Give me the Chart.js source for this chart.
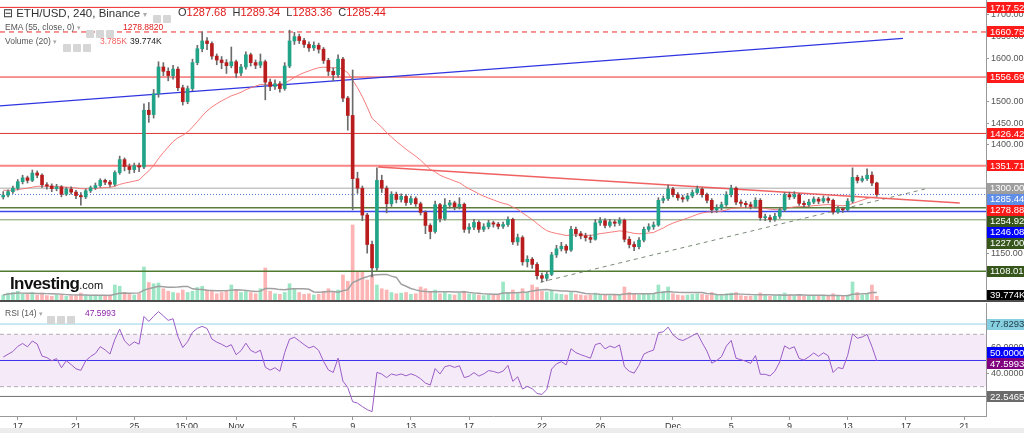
<!DOCTYPE html>
<html>
<head>
<meta charset="utf-8">
<script src="https://cdn.jsdelivr.net/npm/chart.js@4.4.1/dist/chart.umd.min.js"></script>
<style>
  body { margin: 0; width: 1024px; height: 433px; overflow: hidden; background: #fff; position: relative;
         font-family: 'Liberation Sans', Arial, sans-serif; }
  #priceWrap { position: absolute; left: 0; top: 0; width: 1024px; height: 300px; }
  #rsiWrap { position: absolute; left: 0; top: 302px; width: 1024px; height: 126px; }
  .sep { position: absolute; left: 0; top: 300px; width: 1024px; height: 2px; background: #4d4d4d; }
  .foot { position: absolute; left: 0; top: 428px; width: 1024px; height: 5px; background: #ececec; }
  .hd { position: absolute; white-space: nowrap; color: #555; }
  .ic { display: inline-block; width: 8px; height: 8px; background: #d6d6d6; margin-right: 2px; vertical-align: -1px; border-radius: 1px; }
  .red { color: #e01b1b; }
  .logo { position: absolute; left: 10px; top: 274px; color: #111; white-space: nowrap; }
</style>
</head>
<body>
<div id="priceWrap"><canvas id="priceChart" width="1024" height="300"></canvas></div>
<div class="sep"></div>
<div id="rsiWrap"><canvas id="rsiChart" width="1024" height="126"></canvas></div>
<div class="foot"></div>

<div class="hd" style="left:3px;top:6px;font-size:11.5px;color:#333">&#8863; ETH/USD, 240, Binance <span style="font-size:8px;color:#aaa">&#9662;</span></div>
<div class="hd" style="left:153px;top:8px"><span class="ic"></span><span class="ic"></span></div>
<div class="hd" style="left:178px;top:6px;font-size:11px;color:#333">O<span class="red">1287.68</span>&nbsp; H<span class="red">1289.34</span>&nbsp; L<span class="red">1283.36</span>&nbsp; C<span class="red">1285.44</span></div>
<div class="hd" style="left:5px;top:22px;font-size:8.5px">EMA (55, close, 0) <span style="font-size:7px;color:#aaa">&#9662;</span></div>
<div class="hd" style="left:86px;top:23px"><span class="ic"></span><span class="ic"></span><span class="ic"></span></div>
<div class="hd red" style="left:123px;top:22px;font-size:8.5px">1278.8820</div>
<div class="hd" style="left:5px;top:36px;font-size:8.5px">Volume (20) <span style="font-size:7px;color:#aaa">&#9662;</span></div>
<div class="hd" style="left:63px;top:37px"><span class="ic"></span><span class="ic"></span><span class="ic"></span></div>
<div class="hd" style="left:100px;top:36px;font-size:8.5px;color:#f26161">3.785K</div>
<div class="hd" style="left:130px;top:36px;font-size:8.5px;color:#222">39.774K</div>
<div class="logo"><b style="font-size:17px;letter-spacing:-0.6px">Investing</b><span style="font-size:11px">.com</span></div>
<div class="hd" style="left:5px;top:308px;font-size:8.5px">RSI (14) <span style="font-size:7px;color:#aaa">&#9662;</span></div>
<div class="hd" style="left:47px;top:309px"><span class="ic"></span><span class="ic"></span><span class="ic"></span></div>
<div class="hd" style="left:85px;top:308px;font-size:8.5px;color:#8e24aa">47.5993</div>

<script>
// 8h candles starting Oct 16 (day -1 = Oct 16, day 0 = Oct 17)
const startDay = -1;
const barsPerDay = 3;
const firstOpen = 1280;

const closes = [
  1284, 1292, 1300, 1315, 1324, 1318, 1335, 1330, 1308, 1305,
  1299, 1303, 1286, 1298, 1291, 1283, 1280, 1294, 1301, 1306,
  1318, 1314, 1309, 1336, 1366, 1350, 1343, 1352, 1349, 1480,
  1470, 1518, 1580, 1570, 1560, 1575, 1532, 1500, 1530, 1590,
  1622, 1640, 1634, 1605, 1596, 1590, 1583, 1592, 1566, 1580,
  1608, 1590, 1584, 1592, 1545, 1535, 1541, 1530, 1582, 1640,
  1650, 1641, 1632, 1624, 1630, 1621, 1595, 1570, 1562, 1598,
  1508, 1468, 1322, 1300, 1238, 1170, 1116, 1318, 1300, 1264,
  1286, 1274, 1281, 1267, 1276, 1264, 1244, 1214, 1200, 1262,
  1230, 1261, 1266, 1257, 1263, 1205, 1210, 1221, 1205, 1211,
  1220, 1217, 1212, 1216, 1228, 1176, 1186, 1130, 1136, 1124,
  1098, 1092, 1101, 1146, 1160, 1166, 1157, 1205, 1195, 1190,
  1186, 1182, 1220, 1225, 1214, 1222, 1219, 1226, 1182, 1170,
  1165, 1180, 1205, 1211, 1215, 1272, 1276, 1298, 1285, 1278,
  1275, 1282, 1290, 1298, 1285, 1272, 1250, 1255, 1262, 1285,
  1300, 1268, 1265, 1262, 1258, 1272, 1232, 1232, 1228, 1235,
  1250, 1285, 1280, 1285, 1265, 1262, 1268, 1275, 1270, 1276,
  1272, 1245, 1252, 1250, 1270, 1325, 1318, 1322, 1330, 1312,
  1285.44
];
const highs = [
  1292, 1296, 1305, 1320, 1330, 1328, 1342, 1340, 1333, 1313,
  1310, 1309, 1306, 1302, 1303, 1295, 1290, 1298, 1305, 1312,
  1322, 1321, 1318, 1340, 1374, 1370, 1356, 1358, 1358, 1495,
  1498, 1528, 1592, 1590, 1578, 1584, 1580, 1538, 1536, 1598,
  1630, 1661, 1648, 1638, 1610, 1604, 1597, 1626, 1596, 1586,
  1615, 1612, 1596, 1610, 1596, 1552, 1550, 1546, 1590, 1665,
  1660, 1656, 1646, 1638, 1638, 1635, 1625, 1600, 1578, 1608,
  1602, 1512, 1573, 1337, 1305, 1242, 1178, 1347, 1330, 1305,
  1292, 1291, 1287, 1285, 1282, 1280, 1268, 1248, 1218, 1270,
  1265, 1276, 1272, 1270, 1278, 1266, 1218, 1228, 1225, 1218,
  1226, 1224, 1221, 1222, 1234, 1231, 1194, 1190, 1144, 1140,
  1128, 1104, 1108, 1152, 1168, 1175, 1170, 1212, 1210, 1200,
  1196, 1192, 1228, 1232, 1230, 1228, 1227, 1232, 1229, 1188,
  1176, 1186, 1210, 1218, 1222, 1278, 1282, 1307, 1302, 1290,
  1284, 1288, 1296, 1305, 1301, 1289, 1276, 1262, 1268, 1292,
  1307, 1303, 1273, 1270, 1268, 1278, 1276, 1240, 1238, 1242,
  1256, 1290, 1291, 1292, 1288, 1270, 1274, 1280, 1279, 1282,
  1280, 1275, 1258, 1256, 1276, 1347, 1330, 1328, 1345, 1338,
  1314
];
const lows = [
  1275, 1280, 1288, 1296, 1310, 1312, 1315, 1324, 1302, 1298,
  1292, 1294, 1280, 1283, 1286, 1276, 1261, 1276, 1290, 1297,
  1302, 1308, 1303, 1305, 1332, 1340, 1334, 1336, 1338, 1345,
  1452, 1462, 1510, 1560, 1548, 1552, 1525, 1492, 1495, 1525,
  1585, 1615, 1620, 1598, 1585, 1576, 1565, 1578, 1556, 1560,
  1575, 1582, 1576, 1578, 1504, 1525, 1528, 1522, 1526, 1578,
  1632, 1634, 1625, 1616, 1618, 1612, 1588, 1560, 1548, 1556,
  1500, 1434, 1250, 1288, 1225, 1150, 1095, 1110, 1290, 1243,
  1258, 1266, 1268, 1260, 1262, 1258, 1238, 1195, 1183, 1196,
  1222, 1226, 1254, 1250, 1252, 1198, 1196, 1204, 1198, 1200,
  1206, 1210, 1206, 1207, 1212, 1170, 1168, 1122, 1118, 1115,
  1090, 1083, 1086, 1098, 1140, 1155, 1150, 1154, 1188, 1183,
  1178, 1174, 1180, 1214, 1208, 1210, 1212, 1214, 1176, 1162,
  1156, 1160, 1176, 1200, 1205, 1212, 1266, 1272, 1280, 1272,
  1268, 1270, 1278, 1286, 1279, 1266, 1243, 1244, 1250, 1258,
  1280, 1262, 1258, 1255, 1252, 1254, 1226, 1225, 1222, 1224,
  1230, 1246, 1274, 1276, 1260, 1256, 1258, 1264, 1264, 1266,
  1266, 1240, 1242, 1244, 1247, 1266, 1312, 1314, 1318, 1306,
  1281
];
// volume in K
const volumes = [
  40, 55, 60, 70, 50, 45, 60, 40, 55, 35,
  30, 40, 45, 30, 35, 40, 55, 35, 30, 40,
  35, 30, 40, 120, 110, 60, 45, 40, 50, 264,
  140, 130, 136, 90, 70, 60, 55, 80, 60, 70,
  100, 110, 80, 70, 50, 60, 70, 120, 80, 60,
  70, 60, 50, 90, 256, 70, 50, 45, 60, 130,
  90, 60, 45, 50, 40, 45, 70, 90, 60, 80,
  200, 150, 600, 224, 224, 160, 200, 120, 90, 80,
  60, 50, 55, 60, 45, 50, 104, 90, 70, 80,
  50, 60, 45, 40, 55, 70, 50, 45, 40, 35,
  40, 40, 45, 144, 60, 80, 50, 90, 60, 120,
  100, 70, 64, 80, 50, 45, 40, 60, 45, 40,
  35, 40, 55, 45, 40, 35, 40, 45, 104, 60,
  45, 40, 50, 45, 50, 120, 70, 104, 50, 40,
  35, 40, 45, 50, 45, 40, 60, 40, 35, 50,
  55, 60, 35, 30, 30, 35, 56, 35, 30, 35,
  45, 56, 40, 35, 45, 30, 30, 35, 30, 30,
  35, 50, 35, 30, 40, 144, 60, 40, 50, 120,
  30
];

// indicator settings (8h bars -> half the 4h periods)
const emaSeed = 1296;
const emaPeriod = 27.5;
const rsiPeriod = 10;
const rsiSeedGain = 10, rsiSeedLoss = 9;
const volMaPeriod = 10;

// read-off values
const lastEma = 1278.88;
const lastVolMa = 39.774;
const lastRsi = 47.5993;
const rsiHigh = 77.8293, rsiLow = 22.5465;

const levelValues = [1717.52, 1660.75, 1556.69, 1426.42, 1351.71, 1300.00, 1285.44, 1254.92, 1246.08, 1227.00, 1108.01];
const levelColors = ['#f02a2a', '#f02a2a', '#f02a2a', '#e23232', 'rgba(250,110,110,0.85)', '#c6c6c6', '#5a7ee0', '#5c7b3c', '#3a48ee', '#7c9868', '#4f7a30'];
const levelWidths = [1, 1, 1, 1, 2, 1.5, 1, 1.5, 1.5, 1, 1.5];
const levelDashes = [[], [5, 4], [], [], [], [], [1, 2], [], [], [], []];
const levelLabelColors = ['#ff1a1a', '#ff1a1a', '#ff1a1a', '#ff1a1a', '#ff1a1a', '#9e9e9e', '#5f8ee8', '#36561c', '#0000ff', '#36561c', '#36561c'];

const blueTrend = [[-1.22, 1490], [60.8, 1646]];
const redTrend = [[24.75, 1349], [64.7, 1266]];
const grayTrend = [[35.9, 1083], [62.3, 1298]];

const tickDays = [0, 4, 8, 11.6, 15, 19, 23, 27, 31, 36, 40, 45, 49, 53, 57, 61, 65];
const tickLabels = ['17', '21', '25', '15:00', 'Nov', '5', '9', '13', '17', '22', '26', 'Dec', '5', '9', '13', '17', '21'];
const priceTicks = [1100, 1150, 1200, 1250, 1300, 1350, 1400, 1450, 1500, 1550, 1600, 1650, 1700];
const rsiTicks = [40, 60];

const X_MIN = -1.22, X_MAX = 66.5;
const PRICE_MIN = 1041.8, PRICE_MAX = 1734.6;
const VOL_MAX = 2400;
const RSI_MIN = 7.6, RSI_MAX = 93.9;

const GREEN = '#20a386', RED = '#b81c1c', WICK = '#6b6b6b';

const dayOf = i => startDay + i / barsPerDay;
const opens = closes.map((c, i) => i === 0 ? firstOpen : closes[i - 1]);
const up = closes.map((c, i) => c >= opens[i]);

function ema(values, period, seed) {
  const k = 2 / (period + 1);
  let e = seed;
  return values.map(v => (e = v * k + e * (1 - k)));
}
function rsi(values, n) {
  let g = rsiSeedGain, l = rsiSeedLoss;
  return values.map((v, i) => {
    if (i > 0) {
      const d = v - values[i - 1];
      g = (g * (n - 1) + Math.max(d, 0)) / n;
      l = (l * (n - 1) + Math.max(-d, 0)) / n;
    }
    return 100 - 100 / (1 + g / l);
  });
}
function sma(values, n) {
  return values.map((v, i) => {
    const part = values.slice(Math.max(0, i - n + 1), i + 1);
    return part.reduce((a, b) => a + b, 0) / part.length;
  });
}

const emaLine = ema(closes, emaPeriod, emaSeed);
const rsiLine = rsi(closes, rsiPeriod);
const volMa = sma(volumes, volMaPeriod);

function hLine(v, color, width, dash, axis) {
  return { type: 'line', yAxisID: axis || 'y', data: [{ x: X_MIN, y: v }, { x: X_MAX, y: v }],
           borderColor: color, borderWidth: width, borderDash: dash || [], pointRadius: 0, order: 4 };
}
function segLine(pts, color, width, dash) {
  return { type: 'line', data: pts.map(p => ({ x: p[0], y: p[1] })), borderColor: color,
           borderWidth: width, borderDash: dash || [], pointRadius: 0, order: 3 };
}
// no extra padding round the axes, so the plot fills its pane
function fitY(s) { s.width = 38; s.paddingTop = 0; s.paddingBottom = 0; }
function fitX(s) { s.height = 12; s.paddingLeft = 0; s.paddingRight = 0; }

// colored value boxes on the right axis
const axisLabels = {
  id: 'axisLabels',
  afterDraw(chart, args, opts) {
    const ctx = chart.ctx, h = 11, left = chart.chartArea.right + 1;
    const items = opts.items.map(it => ({ ...it, py: chart.scales[it.axis || 'y'].getPixelForValue(it.value) }));
    if (opts.dir === 'up') {
      items.sort((a, b) => b.py - a.py);
      for (let i = 1; i < items.length; i++) if (items[i].py > items[i - 1].py - h) items[i].py = items[i - 1].py - h;
    } else {
      items.sort((a, b) => a.py - b.py);
      for (let i = 1; i < items.length; i++) if (items[i].py < items[i - 1].py + h) items[i].py = items[i - 1].py + h;
    }
    ctx.save();
    ctx.font = '9.5px "Liberation Sans", Arial, sans-serif';
    ctx.textBaseline = 'middle';
    items.forEach(it => {
      ctx.fillStyle = it.bg;
      ctx.fillRect(left, Math.round(it.py - h / 2), 37, h);
      ctx.fillStyle = it.fg || '#fff';
      ctx.fillText(it.text, left + 3, it.py + 0.5);
    });
    ctx.restore();
  }
};

const tickFont = { size: 9, family: '"Liberation Sans", Arial, sans-serif' };

const priceDatasets = [
  { type: 'bar', data: closes.map((c, i) => ({ x: dayOf(i), y: [opens[i], c] })),
    backgroundColor: up.map(u => u ? GREEN : RED), barThickness: 3, minBarLength: 1, grouped: false, order: 0 },
  { type: 'bar', data: closes.map((c, i) => ({ x: dayOf(i), y: [lows[i], highs[i]] })),
    backgroundColor: WICK, barThickness: 1, grouped: false, order: 1 },
  { type: 'line', data: emaLine.map((v, i) => ({ x: dayOf(i), y: v })), borderColor: 'rgba(245,110,110,0.9)',
    borderWidth: 1, pointRadius: 0, order: 2 },
  segLine(blueTrend, '#2f35e0', 1.2),
  segLine(redTrend, 'rgba(238,80,80,0.9)', 1.5),
  segLine(grayTrend, '#7a8a78', 1, [4, 4]),
  ...levelValues.map((v, i) => hLine(v, levelColors[i], levelWidths[i], levelDashes[i])),
  { type: 'bar', yAxisID: 'yVol', data: volumes.map((v, i) => ({ x: dayOf(i), y: v })),
    backgroundColor: up.map(u => u ? 'rgba(60,205,140,0.5)' : 'rgba(250,105,105,0.5)'),
    barThickness: 3, grouped: false, order: 6 },
  { type: 'line', yAxisID: 'yVol', data: volMa.map((v, i) => ({ x: dayOf(i), y: v })),
    borderColor: '#a0a0a0', borderWidth: 1.5, pointRadius: 0, order: 5 }
];

const priceLabelItems = [
  ...levelValues.map((v, i) => ({ value: v, text: v.toFixed(2), bg: levelLabelColors[i] })),
  { value: lastEma, text: lastEma.toFixed(2), bg: '#ff1a1a' },
  { value: lastVolMa, axis: 'yVol', text: lastVolMa.toFixed(3) + 'K', bg: '#000' }
];

new Chart(document.getElementById('priceChart'), {
  type: 'bar',
  data: { datasets: priceDatasets },
  options: {
    responsive: false, animation: false,
    layout: { padding: 0 },
    plugins: { legend: { display: false }, tooltip: { enabled: false },
      axisLabels: { items: priceLabelItems, dir: 'down' } },
    scales: {
      x: { type: 'linear', min: X_MIN, max: X_MAX, offset: false, display: false },
      y: { position: 'right', min: PRICE_MIN, max: PRICE_MAX,
        afterBuildTicks: s => { s.ticks = priceTicks.map(v => ({ value: v })); },
        afterFit: fitY,
        ticks: { font: tickFont, color: '#555', padding: 2, callback: v => Number(v).toFixed(2) },
        grid: { drawOnChartArea: false, tickLength: 3, color: '#999' },
        border: { color: '#999' } },
      yVol: { display: false, min: 0, max: VOL_MAX }
    }
  },
  plugins: [axisLabels]
});

const rsiDatasets = [
  { type: 'line', data: rsiLine.map((v, i) => ({ x: dayOf(i), y: v })), borderColor: '#9b5cc6',
    borderWidth: 1, pointRadius: 0, order: 0 },
  { ...hLine(70, '#b0b0b0', 1, [4, 3]), fill: '+1', backgroundColor: 'rgba(185,120,205,0.15)' },
  hLine(30, '#b0b0b0', 1, [4, 3]),
  hLine(50, '#2323f5', 1),
  hLine(rsiHigh, '#92d5e6', 1),
  hLine(rsiLow, '#707070', 1)
];

new Chart(document.getElementById('rsiChart'), {
  type: 'line',
  data: { datasets: rsiDatasets },
  options: {
    responsive: false, animation: false,
    layout: { padding: { top: 1 } },
    plugins: { legend: { display: false }, tooltip: { enabled: false },
      axisLabels: { dir: 'up', items: [
        { value: rsiHigh, text: rsiHigh.toFixed(4), bg: '#86cfe0', fg: '#1d3a44' },
        { value: 50, text: '50.0000', bg: '#0000ff' },
        { value: lastRsi, text: lastRsi.toFixed(4), bg: '#800080' },
        { value: rsiLow, text: rsiLow.toFixed(4), bg: '#6b6b6b' }
      ] } },
    scales: {
      x: { type: 'linear', min: X_MIN, max: X_MAX, offset: false,
        afterBuildTicks: s => { s.ticks = tickDays.map(v => ({ value: v })); },
        afterFit: fitX,
        ticks: { font: tickFont, color: '#333', padding: 1, maxRotation: 0, autoSkip: false,
          callback: v => tickLabels[tickDays.indexOf(v)] },
        grid: { drawOnChartArea: false, tickLength: 4, color: '#999' },
        border: { color: '#999' } },
      y: { position: 'right', min: RSI_MIN, max: RSI_MAX,
        afterBuildTicks: s => { s.ticks = rsiTicks.map(v => ({ value: v })); },
        afterFit: fitY,
        ticks: { font: tickFont, color: '#555', padding: 2, callback: v => Number(v).toFixed(4) },
        grid: { drawOnChartArea: false, tickLength: 3, color: '#999' },
        border: { color: '#999' } }
    }
  },
  plugins: [axisLabels]
});
</script>
</body>
</html>
